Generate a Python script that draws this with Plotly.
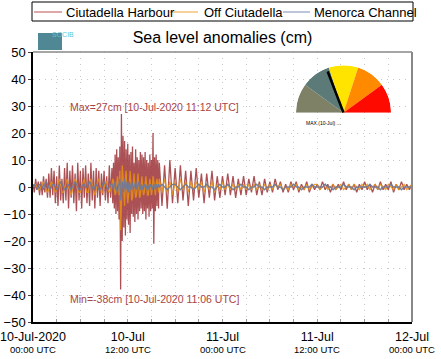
import pandas as pd
import plotly.graph_objects as go

# ---- time grid (minutes after 10-Jul-2020 00:00 UTC) ----
start = pd.Timestamp("2020-07-10 00:00")
minutes = list(range(0, 600, 10)) + list(range(600, 960, 6)) + list(range(960, 2881, 20))
times = [start + pd.Timedelta(minutes=m) for m in minutes]

# ---- sea level anomalies (cm) ----
ciutadella_harbour = [
    1,-2,3,-1,2,-3, 2,-3,4,-2,3,-4, 5,-4,7,-3,6,-6, 4,-7,8,-5,3,-6, 7,-5,9,-8,6,-4,
    8,-6,5,-9,9,-5, 6,-8,7,-4,8,-6, 5,-7,9,-5,6,-8, 7,-4,6,-7,5,-3, 6,-5,4,-6,8,-4,
    7,-6,9,-8,12,-10,14,-9,11,-12,
    15,-38,27,-20,19,-15,17,-18,14,-12,
    16,-14,12,-17,13,-10,15,-11,9,-13,
    14,-10,11,-12,10,-9,13,-8,12,-10,
    11,-9,13,-12,10,-8,9,-11,12,-9,
    10,-8,20,-21,11,-9,12,-7,10,-8,
    9,-7,8,-8,10,-6, 7,-6,8,-5,6,-7, 6,-5,7,-4,5,-6, 5,-4,6,-5,4,-4,
    4,-3,5,-3,4,-4,3,-3,4, -3,3,-2,4,-3,2,-3,3,-2,
    2,-2,3,-1,2,-2,1,-2,2,-1,2,-2,1,-1,2,-2,1,-1,
    1,-1,2,-1,1,-2,1,-1,1,-1,2,-1,1,-1,1,-2,1,-1,
    2,-1,1,-2,1,-1,2,-1,1,-1,2,-2,1,-1,2,-1,1,-1,1,
]
off_ciutadella = [
    0,1,1,0,-1,-1, 0,1,2,0,-1,-2, -1,1,2,1,-1,-2, -1,1,3,1,-2,-2, 0,2,3,0,-2,-3,
    -1,1,3,2,-1,-2, -2,0,2,3,0,-2, -2,1,3,1,-1,-3, -1,2,3,0,-2,-2, 0,2,2,-1,-2,-1,
    1,3,2,-1,-3,-2,2,4,1,-3,
    6,-16,-6,8,4,-5,-7,3,6,-2,
    -6,-3,5,6,1,-5,-4,3,5,-1,
    -4,-3,3,5,0,-4,-3,2,4,-1,
    -3,-2,3,4,0,-3,-3,2,3,0,
    -3,-1,4,2,-2,-3,1,3,1,-2,
    3,-2,3,-2,2,-3, 2,-2,3,-1,2,-2, 2,-1,2,-1,2,-2, 1,-1,2,-2,1,-1,
    2,-1,1,-1,1,-1,1,-1,1, -1,1,-1,1,-1,1,-1,1,-1,
    1,-1,1,0,1,-1,0,-1,1,0,1,-1,0,-1,1,-1,0,1,
    1,-1,0,1,-1,0,1,-1,0,1,-1,0,1,-1,1,0,-1,1,
    0,1,-1,0,1,-1,1,0,-1,1,0,-1,1,-1,0,1,-1,0,1,
]
menorca_channel = [
    0,1,0,-1,0,1, 1,0,-1,1,2,1, 0,-1,0,1,1,0, -1,0,1,2,1,0, -1,-1,0,1,0,-1,
    0,1,2,1,0,-1, -1,0,1,1,0,0, 1,2,1,0,-1,0, 1,0,-1,-1,0,1, 2,1,0,-1,0,1,
    1,0,-1,1,2,0,-1,-2,0,2,
    3,-5,-3,2,1,-2,3,1,-1,2,
    1,-2,2,0,-1,2,1,-1,0,1,
    2,0,-1,1,2,0,-1,1,0,-1,
    1,0,1,-1,0,1,0,-1,1,0,
    1,-1,0,1,0,-1,1,0,0,1,
    0,1,0,-1,0,1, 1,0,-1,0,1,0, 0,-1,0,1,0,0, 1,0,0,-1,0,1,
    0,0,1,0,-1,0,0,1,0, 0,-1,0,0,1,0,0,-1,0,
    0,0,1,0,0,-1,0,0,0,1,0,0,-1,0,0,0,1,0,
    0,0,0,1,0,0,-1,0,0,0,1,0,0,0,-1,0,0,0,
    0,0,1,0,0,0,-1,0,0,0,1,0,0,0,-1,0,0,0,0,
]

series_names = ["Ciutadella Harbour", "Off Ciutadella", "Menorca Channel"]
series_colors = ["rgba(150,38,42,0.8)", "rgba(232,145,20,0.85)", "rgba(110,122,155,0.95)"]
legend_colors = ["#d48a8e", "#f3c27a", "#a9b0cc"]

# tick grid every 3 h, labelled every 12 h
tick_hours = list(range(0, 49, 3))
tick_labels = {
    0: ("10-Jul-2020", "00:00 UTC"),
    12: ("10-Jul", "12:00 UTC"),
    24: ("11-Jul", "00:00 UTC"),
    36: ("11-Jul", "12:00 UTC"),
    48: ("12-Jul", "00:00 UTC"),
}

# gauge (decorative inset)
gauge_colors = ["#7f8166", "#5b7a78", "#ffe400", "#ff8a00", "#ff0a00"]
gauge_theta = [162, 126, 90, 54, 18]
needle_angle = 111

FONT = "Liberation Sans, Arial, sans-serif"
W, H = 441, 359
L, R, T, B = 33, 29, 52, 37
PW, PH = W - L - R, H - T - B


def px(xp):  # pixel x -> paper
    return (xp - L) / PW


def py(yp):  # pixel y (from top) -> paper
    return (H - B - yp) / PH


fig = go.Figure()

for name, vals, col in zip(series_names, [ciutadella_harbour, off_ciutadella, menorca_channel], series_colors):
    fig.add_trace(go.Scatter(x=times, y=vals, mode="lines", name=name,
                             line=dict(color=col, width=1.3), showlegend=False))

tickvals = [start + pd.Timedelta(hours=h) for h in tick_hours]
ticktext = [(tick_labels[h][0] if h in tick_labels else "") for h in tick_hours]

GRID = dict(showgrid=True, gridcolor="#c8c8c8", griddash="1px,5px", gridwidth=1)
fig.update_layout(
    width=W, height=H,
    margin=dict(l=L, r=R, t=T, b=B),
    paper_bgcolor="white", plot_bgcolor="white",
    font=dict(family=FONT, size=13, color="black"),
    title=dict(text="Sea level anomalies (cm)", x=0.5, xref="paper", y=1 - 37 / H,
               yanchor="middle", xanchor="center", font=dict(size=16, family=FONT)),
    showlegend=False,
    xaxis=dict(range=[start, start + pd.Timedelta(hours=48)], tickmode="array",
               tickvals=tickvals, ticktext=ticktext, automargin=False, ticklabeloverflow="allow",
               ticklabelstandoff=2,
               showline=True, linecolor="black", linewidth=1.5,
               ticks="inside", ticklen=3, tickcolor="#999999",
               tickfont=dict(size=12.5), zeroline=False, **GRID),
    yaxis=dict(range=[-50, 50], tickmode="linear", tick0=-50, dtick=10, automargin=False,
               showline=True, linecolor="black", linewidth=1.5,
               ticks="outside", ticklen=3, tickfont=dict(size=13), zeroline=False, **GRID),
    polar=dict(domain=dict(x=[px(296), px(391)], y=[py(114), py(64)]), sector=[0, 180], hole=0,
               bgcolor="rgba(0,0,0,0)",
               radialaxis=dict(visible=False, range=[0, 1]),
               angularaxis=dict(visible=False, direction="counterclockwise", rotation=0)),
)

# sub-labels of x ticks
for h, (main, sub) in tick_labels.items():
    fig.add_annotation(x=start + pd.Timedelta(hours=h), y=0, xref="x", yref="paper",
                       yshift=-27, showarrow=False, text=sub, yanchor="middle",
                       font=dict(size=9.5, family=FONT, color="black"))

# manual legend
fig.add_shape(type="rect", xref="paper", yref="paper", x0=px(32), x1=px(413), y0=py(21), y1=py(2),
              line=dict(color="black", width=1), fillcolor="white")
legend_pos = [(34, 62, 64), (170, 198, 202), (283, 310, 312)]
for (x0, x1, xt), name, col in zip(legend_pos, series_names, legend_colors):
    fig.add_shape(type="line", xref="paper", yref="paper", x0=px(x0), x1=px(x1), y0=py(12), y1=py(12),
                  line=dict(color=col, width=1.5))
    fig.add_annotation(x=px(xt), y=py(12), xref="paper", yref="paper", showarrow=False,
                       xanchor="left", yanchor="middle", text=name,
                       font=dict(size=13, family=FONT, color="black"))

# grey top / right frame
fig.add_shape(type="line", xref="paper", yref="paper", x0=0, x1=1, y0=1, y1=1,
              line=dict(color="#888888", width=1.5))
fig.add_shape(type="line", xref="paper", yref="paper", x0=1, x1=1, y0=0, y1=1,
              line=dict(color="#888888", width=2))

# max / min annotations from data
i_max = max(range(len(ciutadella_harbour)), key=lambda i: ciutadella_harbour[i])
i_min = min(range(len(ciutadella_harbour)), key=lambda i: ciutadella_harbour[i])
ann_color = "#a84444"
fig.add_annotation(x=start + pd.Timedelta(hours=15.4), y=29.5, xref="x", yref="y", showarrow=False,
                   text=f"Max={ciutadella_harbour[i_max]}cm [{times[i_max]:%d-%b-%Y %H:%M} UTC]",
                   font=dict(size=10.5, color=ann_color, family=FONT))
fig.add_annotation(x=start + pd.Timedelta(hours=15.4), y=-41.5, xref="x", yref="y", showarrow=False,
                   text=f"Min={ciutadella_harbour[i_min]}cm [{times[i_min]:%d-%b-%Y %H:%M} UTC]",
                   font=dict(size=10.5, color=ann_color, family=FONT))

# gauge
fig.add_trace(go.Barpolar(r=[1] * 5, theta=gauge_theta, width=[36] * 5,
                          marker=dict(color=gauge_colors, line=dict(width=0)),
                          showlegend=False, hoverinfo="skip"))
fig.add_trace(go.Scatterpolar(r=[0, 0.93], theta=[needle_angle, needle_angle], mode="lines",
                              line=dict(color="black", width=2.5), showlegend=False, hoverinfo="skip"))
fig.add_annotation(x=px(343), y=py(118), xref="paper", yref="paper", showarrow=False,
                   text="MAX (10-Jul) ...", font=dict(size=5, color="black", family=FONT))

# SOCIB logo (approximation)
fig.add_shape(type="rect", xref="paper", yref="paper", x0=px(38), x1=px(62), y0=py(50), y1=py(33),
              fillcolor="#4f8795", line=dict(width=0))
fig.add_annotation(x=px(50), y=py(29), xref="paper", yref="paper", showarrow=False,
                   text="SOCIB", font=dict(size=7, color="#5bc6d6", family=FONT))

fig.write_html("out.html", post_script="document.body.style.margin='0px';",
               config={"displayModeBar": False})
